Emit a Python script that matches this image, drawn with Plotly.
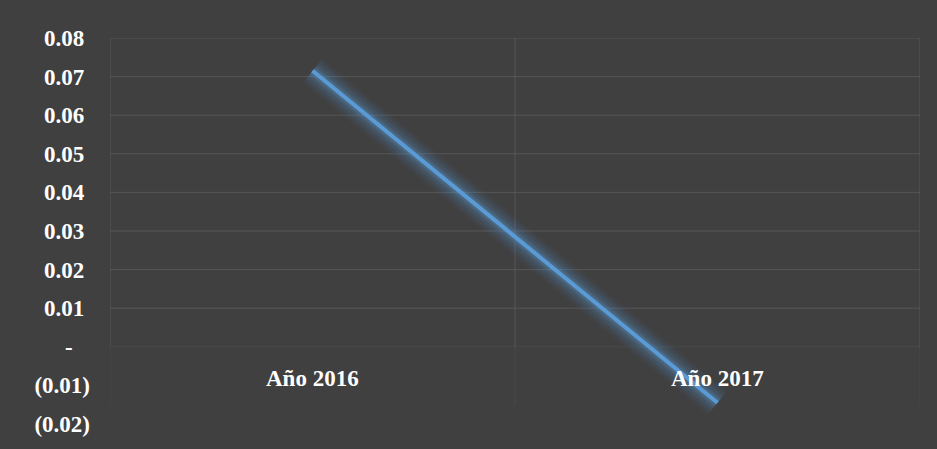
import plotly.graph_objects as go

# Series data
categories = ["Año 2016", "Año 2017"]
values = [0.0715, -0.0145]

# Value axis ticks (accounting-style labels)
y_ticks = [0.08, 0.07, 0.06, 0.05, 0.04, 0.03, 0.02, 0.01, 0.0, -0.01, -0.02]
y_labels = ["0.08", "0.07", "0.06", "0.05", "0.04", "0.03", "0.02", "0.01", "-", "(0.01)", "(0.02)"]

NB = "\u00a0"
def pad(label):
    if label == "-":
        return label + NB * 3
    if label.startswith("("):
        return label
    return label + NB

W, H = 937, 449
ML, MR, MT, MB = 110, 17, 38, 21

BG = "#404040"
GRID = "#565656"
GRID_FAINT = "#494949"
LINE = "#5b9bd5"
FAMILY = "Liberation Serif"
TICKFONT = dict(family=FAMILY, size=23, color="white", weight="bold")

xs = list(range(len(categories)))
fig = go.Figure()

# soft glow under the line
for w, a in [(30, 0.06), (24, 0.08), (18, 0.10), (12, 0.14), (8, 0.2)]:
    fig.add_trace(go.Scatter(x=xs, y=values, mode="lines",
                             line=dict(color=f"rgba(91,155,213,{a})", width=w),
                             hoverinfo="skip", showlegend=False))
fig.add_trace(go.Scatter(x=xs, y=values, mode="lines",
                         line=dict(color=LINE, width=4),
                         showlegend=False))

shapes = []
# horizontal gridlines from the tick values
for v in y_ticks:
    if v < 0:
        continue
    shapes.append(dict(type="line", xref="x", yref="y", layer="below",
                       x0=-0.5, x1=len(categories) - 0.5, y0=v, y1=v,
                       line=dict(color=GRID if v > 0 else GRID_FAINT, width=1)))
# vertical gridlines at category boundaries
for i in range(len(categories) + 1):
    xb = i - 0.5
    shapes.append(dict(type="line", xref="x", yref="y", layer="below",
                       x0=xb, x1=xb, y0=0, y1=max(y_ticks),
                       line=dict(color=GRID, width=1)))
    shapes.append(dict(type="line", xref="x", yref="y", layer="below",
                       x0=xb, x1=xb, y0=min(y_ticks) * 0.75, y1=0,
                       line=dict(color=GRID_FAINT, width=1)))

# category labels sit just under the zero line
annotations = [dict(x=i, y=0, xref="x", yref="y", text=f"<b>{c}</b>",
                    showarrow=False, yanchor="top", yshift=-17,
                    font=dict(family=FAMILY, size=23, color="white"))
               for i, c in enumerate(categories)]

y_min, y_max = min(y_ticks), max(y_ticks)

fig.update_layout(
    width=W, height=H,
    margin=dict(l=ML, r=MR, t=MT, b=MB, pad=0),
    paper_bgcolor=BG,
    plot_bgcolor="rgba(0,0,0,0)",
    shapes=shapes,
    annotations=annotations,
    xaxis=dict(range=[-0.5, len(categories) - 0.5], showticklabels=False,
               showgrid=False, zeroline=False, showline=False, ticks="",
               fixedrange=True),
    yaxis=dict(range=[y_min, y_max], tickvals=y_ticks, ticktext=[pad(t) for t in y_labels],
               showgrid=False, zeroline=False, showline=False, ticks="",
               ticklabelstandoff=19, tickfont=TICKFONT,
               fixedrange=True),
)

fig.write_html("out.html")
